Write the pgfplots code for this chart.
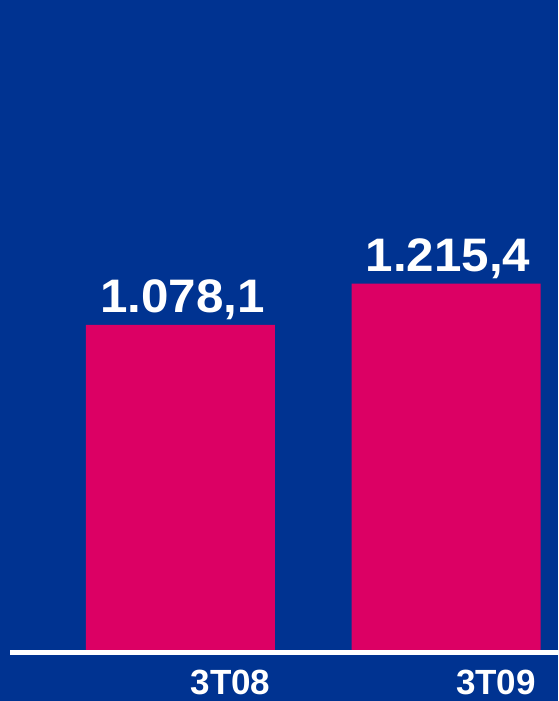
\documentclass[border=0pt]{standalone}
\usepackage{pgfplots}
\pgfplotsset{compat=1.18}
\usepackage{fontspec}
\setmainfont{Liberation Sans}
\definecolor{bgblue}{RGB}{0,51,145}
\definecolor{barmag}{RGB}{220,0,100}
\begin{document}
\begin{tikzpicture}[x=1pt,y=1pt]
\fill[bgblue] (0,0) rectangle (558,701);
\useasboundingbox (0,0) rectangle (558,701);
\begin{axis}[
  at={(10pt,51pt)}, anchor=south west,
  scale only axis, width=548pt, height=650pt,
  xmin=-0.642, xmax=1.4218, ymin=0, ymax=2156,
  clip=false,
  axis line style={draw=none},
  xtick={0,1}, xticklabels={3T08,3T09},
  xtick style={draw=none},
  xticklabel style={font=\fontsize{35}{40}\selectfont\bfseries, text=white, anchor=base, xshift=50pt, yshift=-45pt},
  ytick=\empty,
  major tick length=0pt,
]
\addplot[ybar, bar width=189pt, fill=barmag, draw=none,
  nodes near coords={\pgfmathprintnumber[assume math mode=true, fixed, fixed zerofill, precision=1, use comma, 1000 sep={.}]{\pgfplotspointmeta}},
  nodes near coords style={font=\fontsize{47}{50}\selectfont\bfseries, text=white, anchor=base, yshift=12pt, inner sep=0pt, xscale=1.05, xshift=2pt}
] coordinates {(0,1078.1) (1,1215.4)};
\draw[white, line width=5pt] (axis cs:-0.642,-8.3) -- (axis cs:1.4218,-8.3);
\end{axis}
\end{tikzpicture}
\end{document}
